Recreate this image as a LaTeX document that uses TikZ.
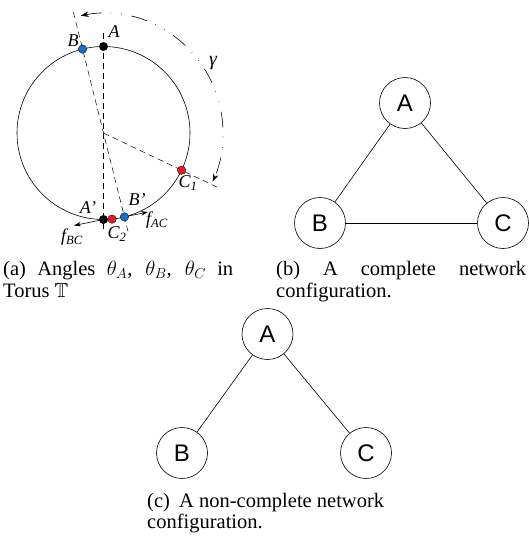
\documentclass[tikz,border=0pt]{standalone}
\usepackage{amssymb}
\usepackage{fontspec}
\setmainfont{Liberation Serif}
\newfontfamily\arialfont{Liberation Sans}
\usetikzlibrary{calc,arrows.meta}
\definecolor{dotblue}{RGB}{25,110,200}
\definecolor{dotred}{RGB}{225,30,40}
\begin{document}
\begin{tikzpicture}[x=1pt,y=-1pt,
  dot/.style={circle, draw=black, line width=0.3pt, inner sep=0pt, minimum size=8.5pt},
  netnode/.style={circle, draw, line width=0.6pt, minimum size=51pt, inner sep=0pt,
    font=\arialfont\fontsize{24}{24}\selectfont},
  lbl/.style={font=\itshape\fontsize{18}{18}\selectfont, inner sep=0pt},
  captxt/.style={font=\fontsize{20.5}{22}\selectfont, inner sep=0pt, anchor=base west},
  capfirst/.style={captxt, text depth=0pt},
  capsecond/.style={captxt, text height=12pt},
  guide/.style={line width=0.5pt, dash pattern=on 6pt off 4pt},
  gammaarc/.style={line width=0.6pt,
    dash pattern=on 16pt off 9pt on 0.6pt off 10pt on 0.6pt off 10pt,
    {Stealth[length=8pt,width=5.5pt]}-{Stealth[length=8pt,width=5.5pt]}},
  farrow/.style={line width=0.6pt, -{Stealth[length=7pt,width=4.5pt]}},
  edge/.style={line width=0.6pt}]
\useasboundingbox (0,0) rectangle (529,536);

% ---------- (a) torus ----------
\coordinate (O) at (103.5,133);
\coordinate (fACtip) at (148,212);
\coordinate (fBCtip) at (74,225.5);
\path (103.5,46.5) coordinate (pA)
      (82.6,49.1) coordinate (pB)
      (103.5,219.5) coordinate (pAp)
      (112,219.1) coordinate (pC2)
      (124.4,216.9) coordinate (pBp)
      (181.6,170.2) coordinate (pC1);

\draw[guide] ($(pA)+(0,-13.5)$) -- ($(pAp)+(0,9.5)$);
\draw[guide] ($(pB)!-0.22!(pBp)$) -- ($(pBp)!-0.09!(pB)$);
\draw[guide] (O) -- ($(O)!1.47!(pC1)$);
\draw[line width=0.6pt] (O) circle[radius=86.5pt];
\draw[gammaarc] ($(O)+(101:119.5pt)$) arc[start angle=101, end angle=-24, radius=119.5pt];

\draw[farrow] (pBp) -- (fACtip);
\draw[farrow] (pAp) -- (fBCtip);

\node[dot, fill=black] (A) at (pA) {};
\node[dot, fill=dotblue] (B) at (pB) {};
\node[dot, fill=black] (Ap) at (pAp) {};
\node[dot, fill=dotred] (C2) at (pC2) {};
\node[dot, fill=dotblue] (Bp) at (pBp) {};
\node[dot, fill=dotred] (C1) at (pC1) {};

\node[lbl] (lA) at (114,32) {A};
\node[lbl] (lB) at (73,41) {B};
\node[lbl] (lAp) at (88,208) {A’};
\node[lbl] (lBp) at (137,200) {B’};
\node[lbl] (lC1) at (188,183) {C\textsubscript{1}};
\node[lbl] (lC2) at (117,234) {C\textsubscript{2}};
\node[lbl] (lfAC) at (157,220) {f\textsubscript{AC}};
\node[lbl] (lfBC) at (72,237) {f\textsubscript{BC}};
\node[lbl, font=\itshape\fontsize{20}{20}\selectfont] (lg) at (213,63) {γ};

% ---------- (b) complete network ----------
\node[netnode] (bA) at (405,103) {A};
\node[netnode] (bB) at (320,223) {B};
\node[netnode] (bC) at (503,223) {C};
\draw[edge] (bA) -- (bB);
\draw[edge] (bA) -- (bC);
\draw[edge] (bB) -- (bC);

% ---------- (c) non-complete network ----------
\node[netnode] (cA) at (267.5,334) {A};
\node[netnode] (cB) at (182,453) {B};
\node[netnode] (cC) at (366,453) {C};
\draw[edge] (cA) -- (cB);
\draw[edge] (cA) -- (cC);

% ---------- captions ----------
\node[capfirst] (capa1) at (3,275) {\hbox to 230pt{(a) Angles $\theta_A$, $\theta_B$, $\theta_C$ in}};
\node[capsecond] (capa2) at (3,297) {Torus $\mathbb{T}$};
\node[capfirst] (capb1) at (276,275) {\hbox to 250pt{(b) A complete network}};
\node[capsecond] (capb2) at (276,297) {configuration.};
\node[capfirst] (capc1) at (147,507) {(c)\hspace{0.45em}A non-complete network};
\node[capsecond] (capc2) at (147,528) {configuration.};
\end{tikzpicture}
\end{document}
